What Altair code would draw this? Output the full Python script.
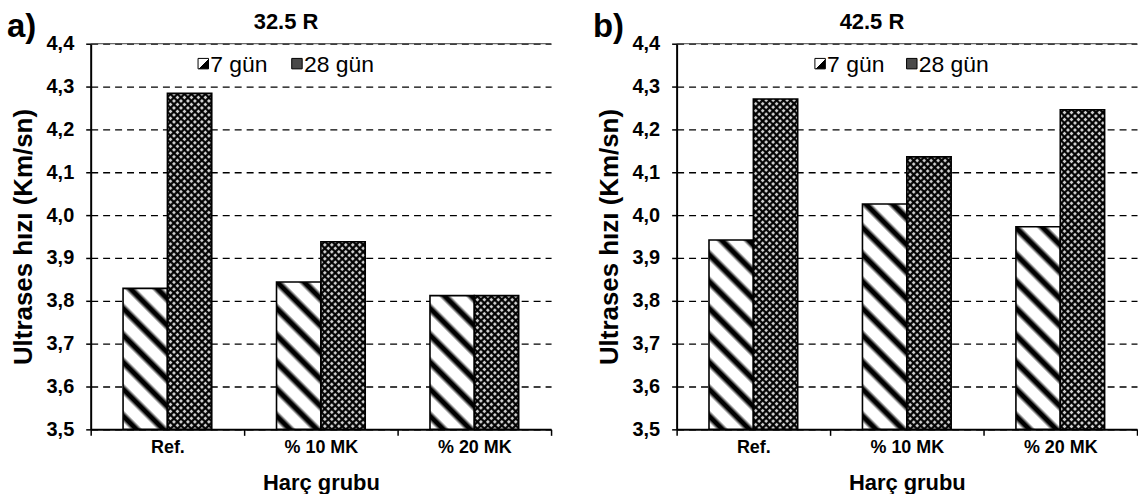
import math
import altair as alt
import pandas as pd

# Mortar groups, curing ages and the two cement classes
groups = ["Ref.", "% 10 MK", "% 20 MK"]
ages = ["7 gün", "28 gün"]
cements = ["32.5 R", "42.5 R"]
letters = ["a)", "b)"]

# Ultrasonic pulse velocity (km/s)
speed_7_325 = [3.829, 3.844, 3.812]
speed_28_325 = [4.284, 3.938, 3.812]
speed_7_425 = [3.942, 4.026, 3.973]
speed_28_425 = [4.271, 4.136, 4.246]

y_ticks = [3.5, 3.6, 3.7, 3.8, 3.9, 4.0, 4.1, 4.2, 4.3, 4.4]

Y_MIN, Y_MAX = 3.5, 4.4
PLOT_W, PLOT_H = 462, 387
PAD_OUTER = 0.73
BAR_W = PLOT_W / len(groups) / (len(ages) + 2 * PAD_OUTER)
FONT = "Liberation Sans"

BLACK = "rgba(0,0,0,1)"
CLEAR = "rgba(0,0,0,0)"
# soft black hatch lines for the 7-day bars, fine crosshatch for 28-day bars
PROFILE_WIDE = [(0.0, CLEAR), (0.25, CLEAR), (0.42, BLACK), (0.58, BLACK), (0.75, CLEAR)]
PROFILE_FINE = [(0.0, CLEAR), (0.18, CLEAR), (0.4, "rgba(0,0,0,0.95)"), (0.64, "rgba(0,0,0,0.95)"), (0.86, CLEAR)]


def hatch(w, h, period, direction, profile):
    """Linear gradient that repeats a stripe profile at 45 degrees over a w x h box."""
    s = (w + h) / (w * w + h * h)
    if direction == "\\":
        x1, y1, x2, y2 = 0, 1, s * w, 1 - s * h
    else:
        x1, y1, x2, y2 = 0, 0, s * w, s * h
    n = (w + h) / period
    stops = []
    for k in range(int(math.ceil(n)) + 1):
        for frac, col in profile:
            t = (k + frac) / n
            if t <= 1:
                stops.append({"offset": round(t, 5), "color": col})
    stops.append({"offset": 1, "color": stops[-1]["color"]})
    return {"gradient": "linear", "x1": x1, "y1": y1, "x2": x2, "y2": y2, "stops": stops}


def panel(cement, letter, v7, v28, legend_pos):
    df = pd.DataFrame({
        "grup": groups * 2,
        "yas": [ages[0]] * len(groups) + [ages[1]] * len(groups),
        "hiz": v7 + v28,
    })
    x = alt.X(
        "grup:N",
        sort=groups,
        scale=alt.Scale(domain=groups, paddingInner=0, paddingOuter=0),
        axis=alt.Axis(
            title="Harç grubu", labelAngle=0, tickBand="extent", tickSize=6,
            labelFontSize=18, titleFontSize=22, labelPadding=3, titlePadding=16,
            domainWidth=2, tickWidth=1.5,
        ),
    )
    y = alt.Y(
        "hiz:Q",
        scale=alt.Scale(domain=[Y_MIN, Y_MAX], nice=False, zero=False),
        axis=alt.Axis(
            title="Ultrases hızı (Km/sn)", values=y_ticks,
            labelExpr="replace(format(datum.value, '.1f'), '.', ',')",
            labelFontSize=20, titleFontSize=26, tickSize=5, tickWidth=1.5,
            domainWidth=2, labelPadding=12, titlePadding=10,
            grid=True, gridColor="black", gridDash=[7, 5], gridWidth=1.3,
        ),
    )
    xo = alt.XOffset(
        "yas:N", sort=ages,
        scale=alt.Scale(domain=ages, paddingOuter=PAD_OUTER, paddingInner=0),
    )
    base = alt.Chart(df).encode(x=x, y=y, y2=alt.datum(Y_MIN), xOffset=xo)

    layers = [
        base.mark_bar().encode(
            color=alt.Color("yas:N", scale=alt.Scale(domain=ages, range=["white", "#cfcfcf"]), legend=None)
        )
    ]
    for i, g in enumerate(groups):
        for a, vals in zip(ages, [v7, v28]):
            h = (vals[i] - Y_MIN) / (Y_MAX - Y_MIN) * PLOT_H
            if a == ages[0]:
                fills = [hatch(BAR_W, h, 27, "\\", PROFILE_WIDE)]
            else:
                fills = [hatch(BAR_W, h, 7, "\\", PROFILE_FINE), hatch(BAR_W, h, 7, "/", PROFILE_FINE)]
            for f in fills:
                layers.append(
                    base.transform_filter((alt.datum.grup == g) & (alt.datum.yas == a)).mark_bar(fill=f)
                )
    layers.append(base.mark_bar(fill="transparent", stroke="black", strokeWidth=1.6))

    # solid upper frame of the plot area
    layers.append(
        alt.Chart(pd.DataFrame({"ust": [Y_MAX]})).mark_rule(color="#444", strokeWidth=1)
        .encode(y=alt.datum(Y_MAX))
    )

    # in-plot legend
    sym7 = {"gradient": "linear", "x1": 0, "y1": 0, "x2": 1, "y2": 1,
            "stops": [{"offset": 0, "color": "white"}, {"offset": 0.55, "color": "white"},
                      {"offset": 0.55, "color": "black"}, {"offset": 1, "color": "black"}]}
    legend_y = 20
    entries = [(ages[0], sym7, legend_pos[0]), (ages[1], "#4a4a4a", legend_pos[1])]
    for label, fill, lx in entries:
        ld = pd.DataFrame({"yas": [label]})
        layers.append(
            alt.Chart(ld).mark_square(size=110, fill=fill, stroke="black", strokeWidth=1, opacity=1)
            .encode(x=alt.value(lx), y=alt.value(legend_y))
        )
        layers.append(
            alt.Chart(ld).mark_text(align="left", baseline="middle", font=FONT, fontSize=23, color="black")
            .encode(text="yas:N", x=alt.value(lx + 7), y=alt.value(legend_y + 1))
        )

    head = pd.DataFrame({"cimento": [cement], "harf": [letter]})
    layers.append(
        alt.Chart(head).mark_text(font=FONT, fontSize=22, fontWeight="bold", color="black", baseline="middle")
        .encode(text="cimento:N", x=alt.value(196), y=alt.value(-22))
    )
    layers.append(
        alt.Chart(head).mark_text(font=FONT, fontSize=33, fontWeight="bold", color="black",
                                  align="left", baseline="middle")
        .encode(text="harf:N", x=alt.value(-84), y=alt.value(-17))
    )
    return alt.layer(*layers).properties(width=PLOT_W, height=PLOT_H)


left = panel(cements[0], letters[0], speed_7_325, speed_28_325, (113, 207))
right = panel(cements[1], letters[1], speed_7_425, speed_28_425, (144, 236))

chart = (
    alt.hconcat(left, right, spacing=41)
    .properties(padding={"left": 7, "top": 10, "right": 0, "bottom": 0}, background="white")
    .configure_view(stroke=None)
    .configure_axis(
        labelFont=FONT, titleFont=FONT, labelFontWeight="bold", titleFontWeight="bold",
        labelColor="black", titleColor="black", domainColor="black", tickColor="black",
    )
)

chart.save("out.html", embed_options={"renderer": "svg", "actions": False})
